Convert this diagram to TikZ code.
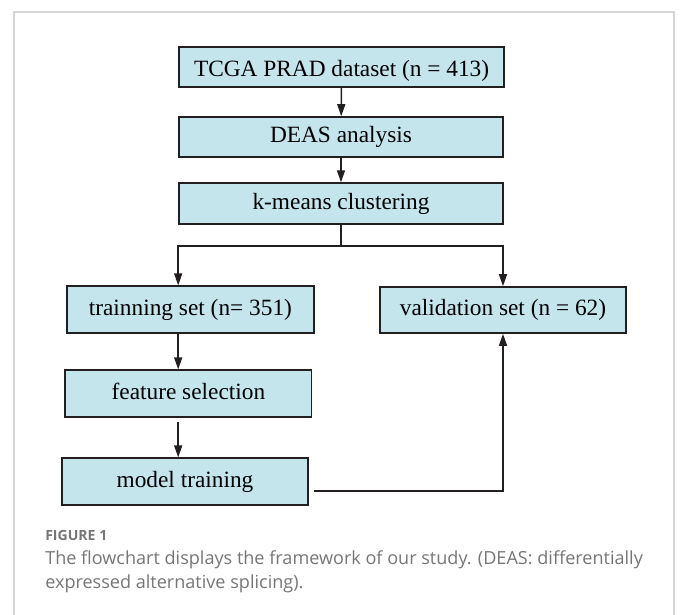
\documentclass[tikz,border=0pt]{standalone}
\usepackage{fontspec}
\setmainfont{Liberation Serif}
\newfontfamily\capfont{Open Sans}
\usetikzlibrary{arrows.meta}

\definecolor{boxblue}{HTML}{C5E5ED}
\definecolor{ink}{HTML}{231F20}
\definecolor{capgray}{HTML}{767676}
\definecolor{framegray}{HTML}{D6D6D6}

\tikzset{
  stage/.style={draw=ink, fill=boxblue, line width=1.15pt, inner sep=0pt,
    minimum height=1.17cm, text height=2.8mm, text depth=0pt,
    font=\fontsize{16.6}{19}\selectfont},
  flow/.style={draw=ink, line width=1.05pt, -{Triangle[length=3mm,width=2mm]}}
}

\begin{document}
\begin{tikzpicture}
    \useasboundingbox (0,0) rectangle (17.025,-15.35);
    \draw[framegray, line width=1.1pt] (0.35,-15.5) |- (16.85,-0.3) -- (16.85,-15.5);

    \node[stage, minimum width=8.12cm, minimum height=1cm, text height=4.7mm] (top) at (8.54,-1.675) {TCGA PRAD dataset (n = 413)};
    \node[stage, minimum width=8.1cm, minimum height=1cm] (deas) at (8.525,-3.425) {DEAS analysis};
    \node[stage, minimum width=8.1cm, minimum height=1.025cm] (kmeans) at (8.525,-5.09) {k-means clustering};
    \node[stage, minimum width=6.175cm] (train) at (4.76,-7.74) {trainning set (n= 351)};
    \node[stage, minimum width=6.14cm, minimum height=1.15cm] (valid) at (12.575,-7.75) {validation set (n = 62)};
    \node[stage, minimum width=6.16cm] (feat) at (4.71,-9.84) {feature selection};
    \node[stage, minimum width=6.15cm] (model) at (4.625,-12.04) {model training};
    \coordinate (split) at (8.525,-6.15);

    \draw[flow] (top) -- (deas);
    \draw[flow] (deas) -- (kmeans);
    \draw[ink, line width=1.05pt] (kmeans.south) -- (split);
    \draw[flow] (split) -| (kmeans.west |- train.north);
    \draw[flow] (split) -| (valid.north);
    \draw[flow] (train.south -| kmeans.west) -- (feat.north -| kmeans.west);
    \draw[flow, shorten <=0.1cm] (feat.south -| kmeans.west) -- (model.north -| kmeans.west);
    \draw[flow] ([shift={(0.12,-0.24)}]model.east) -| (valid.south);

    % caption under the chart
    \node[anchor=base west, inner sep=0pt, text=capgray, font=\capfont\bfseries\fontsize{10}{12}\selectfont] (fig) at (1.125,-13.5) {FIGURE 1};
    \node[anchor=base west, inner sep=0pt, text=capgray, font=\capfont\fontsize{12.85}{15}\selectfont] (capa) at (1.125,-14.1) {The flowchart displays the framework of our study. (DEAS: differentially};
    \node[anchor=base west, inner sep=0pt, text=capgray, font=\capfont\fontsize{12.85}{15}\selectfont] (capb) at (1.125,-14.7) {expressed alternative splicing).};
\end{tikzpicture}
\end{document}
